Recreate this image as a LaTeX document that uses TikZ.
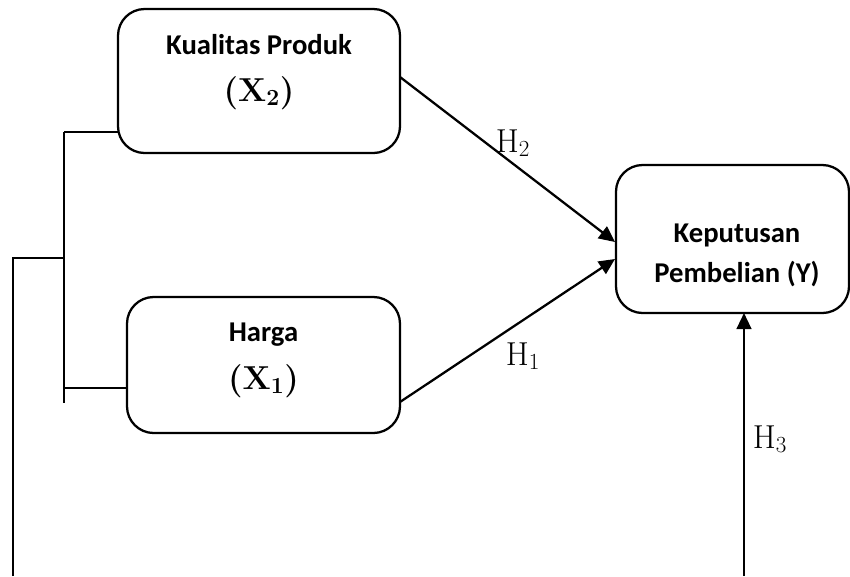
\documentclass[tikz,border=0pt]{standalone}
\usepackage[no-math]{fontspec}
\setmainfont{Carlito}
\usepackage{amsmath}
\usetikzlibrary{arrows.meta}

\begin{document}
\begin{tikzpicture}[x=0.75pt,y=-0.75pt]
\useasboundingbox (0,0) rectangle (850,576);
\tikzstyle{box}=[draw,line width=1.7pt,rounded corners=20pt,inner sep=0pt]
\tikzstyle{title}=[anchor=base,inner sep=0pt,font=\fontsize{21.5}{25}\selectfont\bfseries]
\tikzstyle{var}=[anchor=base,inner sep=0pt,font=\fontsize{27}{31}\selectfont\boldmath]
\tikzstyle{hyp}=[anchor=base,inner sep=0pt,font=\fontsize{23}{27}\selectfont]
\tikzstyle{line}=[line width=1.7pt]
\tikzstyle{arrow}=[line width=1.7pt,-{Triangle[length=12pt,width=11pt]}]

\node[box,minimum width=211.5pt,minimum height=108pt] (kp) at (259,81) {};
\node[title] (kpt) at (259,54) {Kualitas Produk};
\node[var] (kpv) at (259,101) {$(\mathbf{X}_2)$};

\node[box,minimum width=204.75pt,minimum height=102pt] (hg) at (263.5,365) {};
\node[title] (hgt) at (263.5,341) {Harga};
\node[var] (hgv) at (263.5,389) {$(\mathbf{X}_1)$};

\node[box,minimum width=174.75pt,minimum height=111pt] (kep) at (732.5,239) {};
\node[title] (kept) at (737,242) {Keputusan};
\node[title] (kepy) at (737,282) {Pembelian (Y)};

\node[hyp] (h2) at (513,152) {$\mathrm{H}_2$};
\node[hyp] (h1) at (523,365) {$\mathrm{H}_1$};
\node[hyp] (h3) at (770,448) {$\mathrm{H}_3$};

\coordinate (kpout) at (400,77);
\coordinate (hgout) at (400,402);
\coordinate (kin2) at (615,242);
\coordinate (kin1) at (615,259);
\coordinate (kin3) at (744,313);
\coordinate (bot3) at (744,576);
\coordinate (kpin) at (118,132);
\coordinate (hgin) at (127,388);
\coordinate (brtop) at (64,132);
\coordinate (brmid) at (64,258);
\coordinate (brhg) at (64,388);
\coordinate (brbot) at (64,403);
\coordinate (outtop) at (13,258);
\coordinate (outbot) at (13,576);

\draw[line] (brtop) -- (brbot);
\draw[line] (brtop) -- (kpin);
\draw[line] (brhg) -- (hgin);
\draw[line] (outbot) -- (outtop) -- (brmid);

\draw[arrow] (kpout) -- (kin2);
\draw[arrow] (hgout) -- (kin1);
\draw[arrow] (bot3) -- (kin3);
\end{tikzpicture}
\end{document}
